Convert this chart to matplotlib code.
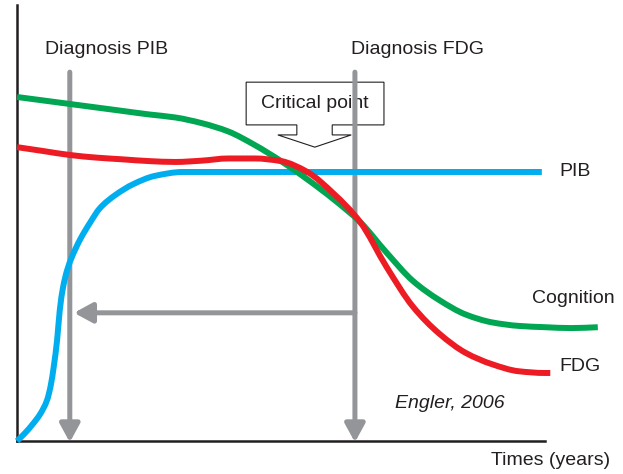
import matplotlib
matplotlib.use("Agg")
import matplotlib.pyplot as plt
from matplotlib.patches import Polygon, FancyArrowPatch, PathPatch
from matplotlib.path import Path

# curve values (time in arbitrary years, value 0-100)
t_half = [i * 0.5 for i in range(23)]
cognition = [78.9, 78.1, 77.3, 76.5, 75.7, 74.9, 74.2, 72.9, 71.0, 67.9, 64.2, 60.0,
             55.4, 50.2, 43.2, 36.7, 32.3, 29.0, 27.2, 26.4, 26.1, 25.9, 26.1]
fdg_t = [i * 0.5 for i in range(21)] + [10.1]
fdg = [67.4, 66.5, 65.6, 65.0, 64.6, 64.2, 64.0, 64.3, 64.8, 64.8, 64.2, 61.7,
       56.7, 50.2, 39.9, 30.8, 24.6, 20.2, 17.6, 16.0, 15.6, 15.6]
pib_t = [0, 0.15, 0.30, 0.44, 0.57, 0.64, 0.70, 0.76, 0.81, 0.87, 0.95, 1.04,
         1.19, 1.38, 1.57, 1.86, 2.20, 2.61, 3.14, 9.94]
pib = [0, 1.8, 3.9, 6.2, 9.4, 12.8, 17.4, 23.2, 30.0, 35.1, 39.2, 42.2,
       46.1, 50.0, 53.4, 56.4, 58.9, 60.8, 61.7, 61.7]

diag_pib_t = 1.0
diag_fdg_t = 6.4
diag_top = 84.6
back_arrow_v = 29.4

GREEN, RED, BLUE, GRAY = "#00a651", "#ed1c24", "#00aeef", "#939598"
INK = "#231f20"
FONT = ["Liberation Sans", "DejaVu Sans"]


def smooth_path(xs, ys):
    # monotone cubic (Fritsch-Carlson) through the read points, as bezier segments
    n = len(xs)
    h = [xs[i + 1] - xs[i] for i in range(n - 1)]
    d = [(ys[i + 1] - ys[i]) / h[i] for i in range(n - 1)]
    m = [d[0]] + [0.0] * (n - 2) + [d[-1]]
    for i in range(1, n - 1):
        if d[i - 1] * d[i] > 0:
            w1 = 2 * h[i] + h[i - 1]
            w2 = h[i] + 2 * h[i - 1]
            m[i] = (w1 + w2) / (w1 / d[i - 1] + w2 / d[i])
    verts = [(xs[0], ys[0])]
    codes = [Path.MOVETO]
    for i in range(n - 1):
        verts += [(xs[i] + h[i] / 3, ys[i] + m[i] * h[i] / 3),
                  (xs[i + 1] - h[i] / 3, ys[i + 1] - m[i + 1] * h[i] / 3),
                  (xs[i + 1], ys[i + 1])]
        codes += [Path.CURVE4] * 3
    return Path(verts, codes)


fig = plt.figure(figsize=(6.23, 4.74), dpi=100)
ax = fig.add_axes([17 / 623, 33 / 474, 528 / 623, 436 / 474])
ax.set_xlim(0, 10)
ax.set_ylim(0, 100)
for s in ["top", "right"]:
    ax.spines[s].set_visible(False)
for s in ["left", "bottom"]:
    ax.spines[s].set_linewidth(1.8)
    ax.spines[s].set_color(INK)
ax.set_xticks([])
ax.set_yticks([])

# callout box for the critical point
box = [(4.34, 82.3), (6.95, 82.3), (6.95, 72.5), (5.97, 72.5), (5.97, 70.2),
       (6.33, 70.2), (5.64, 67.4), (4.94, 70.2), (5.30, 70.2), (5.30, 72.5),
       (4.34, 72.5)]
ax.add_patch(Polygon(box, closed=True, facecolor="white", edgecolor=INK,
                     linewidth=0.8, zorder=1, clip_on=False))
ax.text(5.64, 77.5, "Critical point", ha="center", va="center", fontsize=14,
        family=FONT, color=INK, zorder=2)

# diagnosis lines with arrow heads
for xt in [diag_pib_t, diag_fdg_t]:
    ax.add_patch(FancyArrowPatch((xt, diag_top), (xt, -0.3),
                                 arrowstyle="-|>,head_length=11,head_width=6",
                                 mutation_scale=1, color=GRAY, linewidth=3.6,
                                 shrinkA=0, shrinkB=0, zorder=3, clip_on=False))
ax.add_patch(FancyArrowPatch((diag_fdg_t, back_arrow_v), (diag_pib_t + 0.08, back_arrow_v),
                             arrowstyle="-|>,head_length=11,head_width=6",
                             mutation_scale=1, color=GRAY, linewidth=3.6,
                             shrinkA=0, shrinkB=0, zorder=3))

for xs, ys, col, z in [(pib_t, pib, BLUE, 4), (t_half, cognition, GREEN, 5), (fdg_t, fdg, RED, 6)]:
    ax.add_patch(PathPatch(smooth_path(xs, ys), facecolor="none", edgecolor=col,
                           linewidth=4.3, capstyle="butt", zorder=z, clip_on=False))

ax.text(1.70, 89.7, "Diagnosis PIB", ha="center", va="center", fontsize=14, family=FONT, color=INK)
ax.text(7.58, 89.7, "Diagnosis FDG", ha="center", va="center", fontsize=14, family=FONT, color=INK)
ax.text(10.28, 61.7, "PIB", ha="left", va="center", fontsize=14, family=FONT, color=INK)
ax.text(9.75, 32.6, "Cognition", ha="left", va="center", fontsize=14, family=FONT, color=INK)
ax.text(10.27, 17.0, "FDG", ha="left", va="center", fontsize=14, family=FONT, color=INK)
ax.text(8.2, 8.7, "Engler, 2006", ha="center", va="center", fontsize=14, family=FONT,
        style="italic", color=INK)
ax.text(11.23, -4.4, "Times (years)", ha="right", va="center", fontsize=14, family=FONT,
        color=INK, clip_on=False)

fig.savefig("out.png", dpi=100)
